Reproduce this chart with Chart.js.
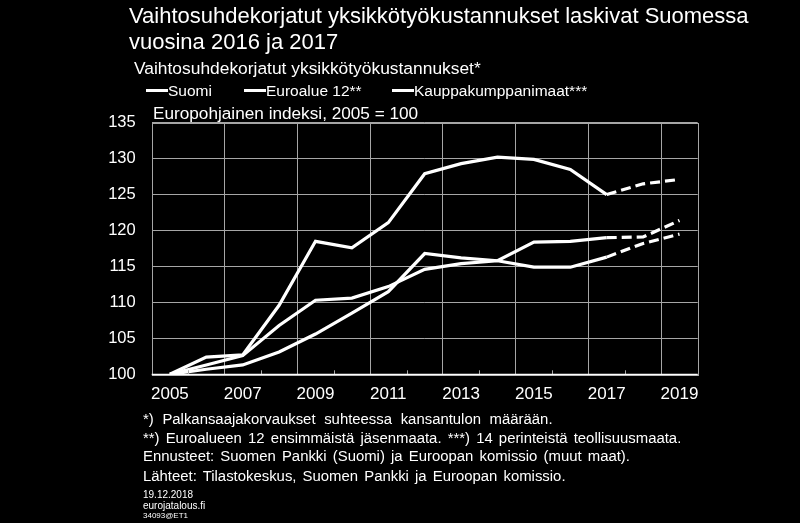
<!DOCTYPE html>
<html lang="fi">
<head>
<meta charset="utf-8">
<title>Vaihtosuhdekorjatut yksikkötyökustannukset</title>
<script src="https://cdn.jsdelivr.net/npm/chart.js@4.4.1/dist/chart.umd.min.js"></script>
<style>
  html, body { margin: 0; padding: 0; background: #000; }
  #wrap { position: relative; width: 800px; height: 523px; overflow: hidden; background: #000;
          font-family: "Liberation Sans", Arial, sans-serif; color: #fff; }
  #wrap canvas { position: absolute; left: 0; top: 0; }
  .txt { position: absolute; white-space: nowrap; line-height: 1; }
  #title { left: 129px; font-size: 22px; line-height: 26px; top: 3px; }
  #subtitle { left: 134px; top: 60px; font-size: 17.4px; }
  #legend { position: absolute; left: 146px; top: 83px; height: 16px; font-size: 15.5px; }
  .leg { position: absolute; top: 0; white-space: nowrap; line-height: 1; }
  .leg i { display: inline-block; width: 22px; height: 3px; background: #fff; vertical-align: middle;
           position: relative; top: -1px; }
  #unit { left: 153px; top: 105px; font-size: 17.2px; }
  .note { left: 143px; font-size: 14.9px; word-spacing: 2px; }
  .small { left: 143px; font-size: 10px; }
</style>
</head>
<body>
<div id="wrap">
  <canvas id="chart" width="800" height="523"></canvas>
  <div class="txt" id="title">Vaihtosuhdekorjatut yksikkötyökustannukset laskivat Suomessa<br>vuosina 2016 ja 2017</div>
  <div class="txt" id="subtitle">Vaihtosuhdekorjatut yksikkötyökustannukset*</div>
  <div id="legend"></div>
  <div class="txt" id="unit">Europohjainen indeksi, 2005 = 100</div>
  <div class="txt note" style="top:412px; word-spacing:4.5px">*) Palkansaajakorvaukset suhteessa kansantulon määrään.</div>
  <div class="txt note" style="top:431px">**) Euroalueen 12 ensimmäistä jäsenmaata. ***) 14 perinteistä teollisuusmaata.</div>
  <div class="txt note" style="top:449px">Ennusteet: Suomen Pankki (Suomi) ja Euroopan komissio (muut maat).</div>
  <div class="txt note" style="top:469px">Lähteet: Tilastokeskus, Suomen Pankki ja Euroopan komissio.</div>
  <div class="txt small" style="top:490px">19.12.2018</div>
  <div class="txt small" style="top:501px">eurojatalous.fi</div>
  <div class="txt small" style="top:512px; font-size:8px">34093@ET1</div>
</div>
<script>
// ---- data -------------------------------------------------------------------

const years = ['2005', '2006', '2007', '2008', '2009', '2010', '2011', '2012',
               '2013', '2014', '2015', '2016', '2017', '2018', '2019'];
const suomi     = [100, 102.4, 102.7, 109.6, 118.5, 117.6, 121.1, 127.9, 129.3, 130.2, 129.9, 128.5, 125.0, 126.5, 127.1];
const euroalue  = [100, 101.3, 102.6, 106.8, 110.3, 110.6, 112.2, 114.6, 115.4, 115.8, 118.4, 118.5, 119.0, 119.1, 121.4];
const kauppa    = [100, 100.7, 101.3, 103.1, 105.6, 108.5, 111.5, 116.8, 116.2, 115.8, 114.9, 114.9, 116.3, 118.2, 119.5];
const seriesLabels = ['Suomi', 'Euroalue 12**', 'Kauppakumppanimaat***'];
const forecastFrom = 12; // 2017 -> dashed after this point
const yTicks = [100, 105, 110, 115, 120, 125, 130, 135];

// ---- chart ------------------------------------------------------------------

const GRID = '#a6a6a6';
const W = 800, H = 523;
const area = { left: 151.7, right: 697.7, top: 122.7, bottom: 374.3 };
const X_AXIS_H = 30;

function ds(label, data) {
  return {
    label, data,
    borderColor: '#fff', borderWidth: 3.2, pointRadius: 0, tension: 0,
    borderCapStyle: 'butt', borderJoinStyle: 'miter',
    segment: { borderDash: ctx => ctx.p0DataIndex >= forecastFrom ? [10, 5] : undefined }
  };
}

// frame round the plot + short inside tick marks on the odd category borders
const framePlugin = {
  id: 'frame',
  afterDraw(chart) {
    const { ctx, chartArea: a, scales: { x } } = chart;
    ctx.save();
    ctx.strokeStyle = GRID;
    ctx.lineWidth = 1;
    ctx.strokeRect(Math.round(a.left) + 0.5, Math.round(a.top) + 0.5,
                   Math.round(a.right - a.left), Math.round(a.bottom - a.top));
    for (let i = 1; i < years.length; i += 2) {
      const px = Math.round((x.getPixelForValue(i - 1) + x.getPixelForValue(i)) / 2) + 0.5;
      ctx.beginPath();
      ctx.moveTo(px, a.bottom);
      ctx.lineTo(px, a.bottom - 4);
      ctx.stroke();
    }
    ctx.strokeStyle = '#fff';
    ctx.lineWidth = 1.5;
    ctx.beginPath();
    ctx.moveTo(a.left, Math.round(a.bottom) + 0.5);
    ctx.lineTo(a.right, Math.round(a.bottom) + 0.5);
    ctx.stroke();
    ctx.restore();
  }
};

const chart = new Chart(document.getElementById('chart'), {
  type: 'line',
  data: {
    labels: years,
    datasets: [ds(seriesLabels[0], suomi), ds(seriesLabels[1], euroalue), ds(seriesLabels[2], kauppa)]
  },
  options: {
    responsive: false,
    animation: false,
    events: [],
    layout: { padding: { left: 0, top: area.top, right: W - area.right, bottom: H - area.bottom - X_AXIS_H } },
    plugins: { legend: { display: false }, tooltip: { enabled: false } },
    scales: {
      x: {
        type: 'category',
        offset: true,
        afterFit: s => { s.height = X_AXIS_H; },
        grid: {
          offset: true,
          drawTicks: false,
          lineWidth: 1,
          color: c => (c.index % 2 === 0 && c.index > 0 && c.index < years.length) ? GRID : 'rgba(0,0,0,0)'
        },
        border: { display: false },
        ticks: {
          autoSkip: false, maxRotation: 0, padding: 10, color: '#fff',
          font: { family: '"Liberation Sans", Arial, sans-serif', size: 17 },
          callback: (v, i) => i % 2 === 0 ? years[i] : ''
        }
      },
      y: {
        min: yTicks[0], max: yTicks[yTicks.length - 1],
        afterFit: s => { s.width = area.left; },
        afterBuildTicks: s => { s.ticks = yTicks.map(v => ({ value: v })); },
        grid: { color: GRID, lineWidth: 1, drawTicks: false },
        border: { display: false },
        ticks: {
          padding: 16, color: '#fff',
          font: { family: '"Liberation Sans", Arial, sans-serif', size: 16.5 }
        }
      }
    }
  },
  plugins: [framePlugin]
});

// ---- legend (html, from the dataset labels) ---------------------------------

const legendX = [0, 98, 246];
document.getElementById('legend').innerHTML = chart.data.datasets.map((d, i) =>
  `<span class="leg" style="left:${legendX[i]}px"><i></i>${d.label}</span>`).join('');
</script>
</body>
</html>
